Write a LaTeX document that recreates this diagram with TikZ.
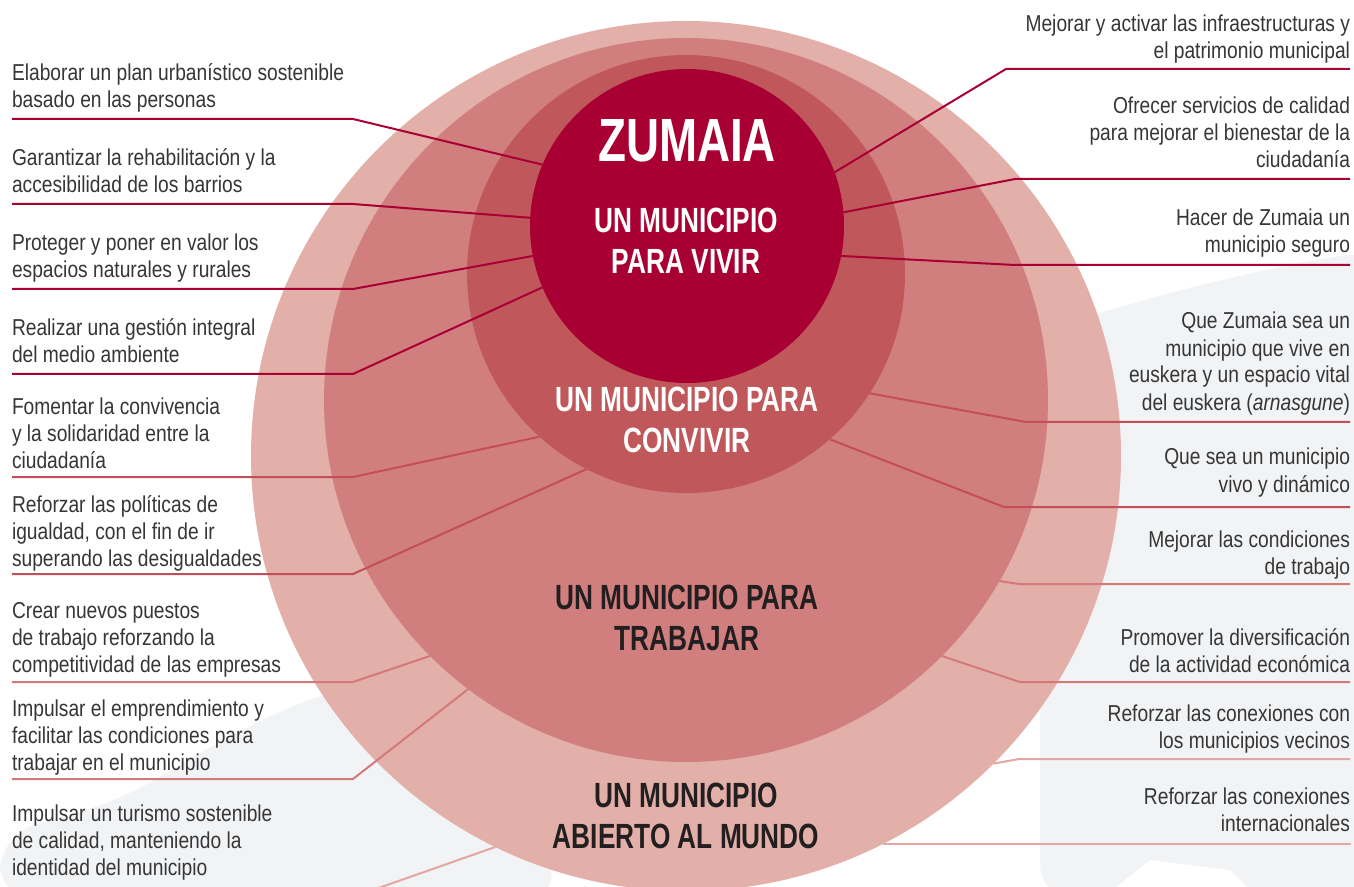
\documentclass[tikz,border=0pt]{standalone}
\usepackage{fontspec}
\setmainfont[FakeStretch=0.835]{Liberation Sans}
\newfontfamily\titlefont[FakeStretch=0.75]{Liberation Sans}
\usetikzlibrary{calc}
\definecolor{ringA}{HTML}{E2AFA9}
\definecolor{ringB}{HTML}{D17F7E}
\definecolor{ringC}{HTML}{C0585B}
\definecolor{ringD}{HTML}{A80033}
\definecolor{lnA}{HTML}{A80033}
\definecolor{lnB}{HTML}{C44E58}
\definecolor{lnC}{HTML}{D3797A}
\definecolor{lnD}{HTML}{E2A7A2}
\definecolor{labeltext}{HTML}{363636}
\definecolor{darktitle}{HTML}{231F20}
\definecolor{brush}{HTML}{F2F3F5}
\begin{document}
\begin{tikzpicture}[x=0.5pt,y=-0.5pt,
  ring/.style={circle, inner sep=0pt, outer sep=0pt, draw=none},
  lbl/.style={inner sep=0pt, outer sep=0pt, text=labeltext, font=\fontsize{11.5}{13.5}\selectfont},
  lblL/.style={lbl, anchor=base west},
  lblR/.style={lbl, anchor=base east},
  ttl/.style={inner sep=0pt, outer sep=0pt, anchor=base, font=\titlefont\bfseries\fontsize{17.5}{20.5}\selectfont},
  link/.style={line width=1pt, line join=miter},
  brushfill/.style={fill=brush, draw=none, rounded corners=18pt}
]
\useasboundingbox (0,0) rectangle (1354,887);
\fill[white] (0,0) rectangle (1354,887);

% faint background brush strokes
\path[brushfill] (1040,330) -- (1180,290) -- (1300,262) -- (1380,250) -- (1380,900) -- (1040,900) -- cycle;
\path[brushfill] (0,835) -- (120,800) -- (240,730) -- (330,690) -- (440,680) -- (520,760) -- (560,900) -- (0,900) -- cycle;
\fill[white] (1100,900) -- (1150,860) -- (1230,870) -- (1260,900) -- cycle;

% circles
\node[ring, fill=ringA, minimum size=435pt] (outer) at (686,456) {};
\node[ring, fill=ringB, minimum size=362pt] (mid) at (686,400) {};
\node[ring, fill=ringC, minimum size=219pt] (conv) at (686,274) {};
\node[ring, fill=ringD, minimum size=157pt] (core) at (687,226) {};

% titles
\node[ttl, text=white, font=\titlefont\bfseries\fontsize{30.5}{34}\selectfont] (zumaia) at (687,162) {ZUMAIA};
\node[ttl, text=white] (tvivir) at (686,274) {\begin{tabular}[b]{@{}c@{}}UN MUNICIPIO\\PARA VIVIR\end{tabular}};
\node[ttl, text=white] (tconv) at (687,452) {\begin{tabular}[b]{@{}c@{}}UN MUNICIPIO PARA\\CONVIVIR\end{tabular}};
\node[ttl, text=darktitle] (ttrab) at (687,650) {\begin{tabular}[b]{@{}c@{}}UN MUNICIPIO PARA\\TRABAJAR\end{tabular}};
\node[ttl, text=darktitle] (tmundo) at (686,848) {\begin{tabular}[b]{@{}c@{}}UN MUNICIPIO\\ABIERTO AL MUNDO\end{tabular}};

% left labels
\node[lblL] (l1) at (12,108) {\begin{tabular}[b]{@{}l@{}}Elaborar un plan urbanístico sostenible\\basado en las personas\end{tabular}};
\node[lblL] (l2) at (12,193) {\begin{tabular}[b]{@{}l@{}}Garantizar la rehabilitación y la\\accesibilidad de los barrios\end{tabular}};
\node[lblL] (l3) at (12,278) {\begin{tabular}[b]{@{}l@{}}Proteger y poner en valor los\\espacios naturales y rurales\end{tabular}};
\node[lblL] (l4) at (12,363) {\begin{tabular}[b]{@{}l@{}}Realizar una gestión integral\\del medio ambiente\end{tabular}};
\node[lblL] (l5) at (12,468) {\begin{tabular}[b]{@{}l@{}}Fomentar la convivencia\\y la solidaridad entre la\\ciudadanía\end{tabular}};
\node[lblL] (l6) at (12,566) {\begin{tabular}[b]{@{}l@{}}Reforzar las políticas de\\igualdad, con el fin de ir\\superando las desigualdades\end{tabular}};
\node[lblL] (l7) at (12,672) {\begin{tabular}[b]{@{}l@{}}Crear nuevos puestos\\de trabajo reforzando la\\competitividad de las empresas\end{tabular}};
\node[lblL] (l8) at (12,770) {\begin{tabular}[b]{@{}l@{}}Impulsar el emprendimiento y\\facilitar las condiciones para\\trabajar en el municipio\end{tabular}};
\node[lblL] (l9) at (12,875) {\begin{tabular}[b]{@{}l@{}}Impulsar un turismo sostenible\\de calidad, manteniendo la\\identidad del municipio\end{tabular}};

% right labels
\node[lblR] (r1) at (1350,59) {\begin{tabular}[b]{@{}r@{}}Mejorar y activar las infraestructuras y\\el patrimonio municipal\end{tabular}};
\node[lblR] (r2) at (1350,168) {\begin{tabular}[b]{@{}r@{}}Ofrecer servicios de calidad\\para mejorar el bienestar de la\\ciudadanía\end{tabular}};
\node[lblR] (r3) at (1350,253) {\begin{tabular}[b]{@{}r@{}}Hacer de Zumaia un\\municipio seguro\end{tabular}};
\node[lblR] (r4) at (1350,410) {\begin{tabular}[b]{@{}r@{}}Que Zumaia sea un\\municipio que vive en\\euskera y un espacio vital\\del euskera (\textit{arnasgune})\end{tabular}};
\node[lblR] (r5) at (1350,492) {\begin{tabular}[b]{@{}r@{}}Que sea un municipio\\vivo y dinámico\end{tabular}};
\node[lblR] (r6) at (1350,574) {\begin{tabular}[b]{@{}r@{}}Mejorar las condiciones\\de trabajo\end{tabular}};
\node[lblR] (r7) at (1350,672) {\begin{tabular}[b]{@{}r@{}}Promover la diversificación\\de la actividad económica\end{tabular}};
\node[lblR] (r8) at (1350,748) {\begin{tabular}[b]{@{}r@{}}Reforzar las conexiones con\\los municipios vecinos\end{tabular}};
\node[lblR] (r9) at (1350,831) {\begin{tabular}[b]{@{}r@{}}Reforzar las conexiones\\internacionales\end{tabular}};

% connector coordinates (left)
\coordinate (l1s) at (12,119);  \coordinate (l1b) at (353,119);
\coordinate (l2s) at (12,204);  \coordinate (l2b) at (353,204);
\coordinate (l3s) at (12,289);  \coordinate (l3b) at (353,289);
\coordinate (l4s) at (12,374);  \coordinate (l4b) at (353,374);
\coordinate (l5s) at (12,477);  \coordinate (l5b) at (353,477);
\coordinate (l6s) at (12,574);  \coordinate (l6b) at (353,574);
\coordinate (l7s) at (12,682);  \coordinate (l7b) at (353,682);
\coordinate (l8s) at (12,779);  \coordinate (l8b) at (353,779);
\coordinate (l9s) at (12,897);  \coordinate (l9b) at (353,897);
% connector coordinates (right)
\coordinate (r1e) at (1350,69);  \coordinate (r1b) at (1006,69);
\coordinate (r2e) at (1350,179); \coordinate (r2b) at (1015,179);
\coordinate (r3e) at (1350,265); \coordinate (r3b) at (1015,265);
\coordinate (r4e) at (1350,422); \coordinate (r4b) at (1026,422);
\coordinate (r5e) at (1350,507); \coordinate (r5b) at (1004,507);
\coordinate (r6e) at (1350,584); \coordinate (r6b) at (1019,584);
\coordinate (r7e) at (1350,682); \coordinate (r7b) at (1020,682);
\coordinate (r8e) at (1350,759); \coordinate (r8b) at (1019,759);
\coordinate (r9e) at (1350,844);

% connectors
\draw[link, draw=lnA] (l1s) -- (l1b) -- (core.157.2);
\draw[link, draw=lnA] (l2s) -- (l2b) -- (core.177.4);
\draw[link, draw=lnA] (l3s) -- (l3b) -- (core.191.5);
\draw[link, draw=lnA] (l4s) -- (l4b) -- (core.203.6);
\draw[link, draw=lnB] (l5s) -- (l5b) -- (conv.228.3);
\draw[link, draw=lnB] (l6s) -- (l6b) -- (conv.243.9);
\draw[link, draw=lnC] (l7s) -- (l7b) -- (mid.225.8);
\draw[link, draw=lnC] (l8s) -- (l8b) -- (mid.233.7);
\draw[link, draw=lnD] (l9s) -- (l9b) -- (outer.244.1);

\draw[link, draw=lnA] (r1e) -- (r1b) -- (core.20.9);
\draw[link, draw=lnA] (r2e) -- (r2b) -- (core.5.5);
\draw[link, draw=lnA] (r3e) -- (r3b) -- (core.-11.2);
\draw[link, draw=lnB] (r4e) -- (r4b) -- (conv.-33.5);
\draw[link, draw=lnB] (r5e) -- (r5b) -- (conv.-49.1);
\draw[link, draw=lnC] (r6e) -- (r6b) -- (mid.-30.5);
\draw[link, draw=lnC] (r7e) -- (r7b) -- (mid.-45);
\draw[link, draw=lnD] (r8e) -- (r8b) -- (outer.-45.5);
\draw[link, draw=lnD] (r9e) -- (outer.-63.1 -| r9e) -- (outer.-63.1);
\end{tikzpicture}
\end{document}
